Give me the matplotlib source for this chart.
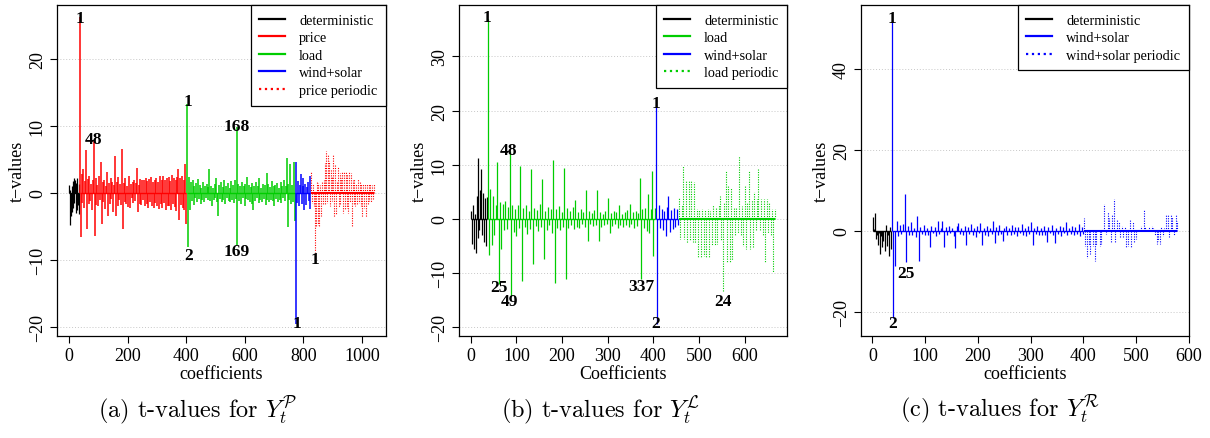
import numpy as np
import matplotlib
matplotlib.use("Agg")
import matplotlib.pyplot as plt
from matplotlib.lines import Line2D

plt.rcParams['font.family'] = ['Liberation Serif', 'DejaVu Serif']
plt.rcParams['mathtext.fontset'] = 'cm'
plt.rcParams['axes.unicode_minus'] = True

RED = '#FF0000'
GREEN = '#00CD00'
BLUE = '#0000FF'
BLACK = '#000000'

# ---------------- panel (a): t-values for price ----------------
a_det_start, a_det_step = 1, 2
a_det = [1.2, -4.8, 0.5, -3.5, 1.0, -2.8, 1.8, -2.2, 2.3, -1.5, 2.0, -3.0, 1.5, -2.5, 2.2, -1.8, 1.4, -3.2]

a_price_start = 37
a_price = [26.2, -6.6, 2.8, -1.5, 3.6, -2.2, 1.8, 6.4, -5.4, 2.1,
           -1.6, 2.5, -1.2, 1.4, -2.6, 1.9, 7.8, -6.4, 2.2, -1.8,
           1.2, -1.9, 2.6, -1.0, 4.6, -4.6, 1.6, -1.3, 2.0, -2.4,
           1.1, 3.2, -3.5, 1.5, -1.7, 2.3, -0.9, 1.6, -2.8, 1.2,
           5.5, -3.5, 1.7, -2.0, 2.4, -1.1, 1.3, -1.8, 6.6, -5.4,
           1.5, -1.4, 2.2, -1.6, 1.0, -2.1, 2.6, -2.2, 1.4, -0.8,
           1.7, -1.5, 2.0, -1.2, 1.5, 3.7, -2.9, 1.2, -1.6, 2.1,
           -1.8, 2.0, -1.0, 1.9, -2.0, 2.3, -1.6, 1.8, -2.2, 2.1,
           -1.4, 2.4, -1.9, 1.7, -2.3, 2.0, -1.5, 2.2, -2.0, 1.6,
           -2.4, 2.5, -1.7, 1.9, -2.2, 2.6, -1.5, 2.0, -2.6, 2.2,
           -1.9, 2.4, -2.0, 1.8, -2.5, 2.7, -1.6, 2.3, -2.1, 1.9,
           -2.7, 2.4, 3.5, -4.0, 2.2, -1.8, 2.6, -2.3, 2.0, -2.5,
           4.3, -4.6]

a_load_start = 404
a_load = [13.2, -8.0, 2.4, -2.5, 1.6, -1.2, 2.0, -1.8, 1.0, -0.8,
          1.5, -1.3, 2.1, -0.9, 1.2, -1.6, 0.8, -1.0, 1.7, -1.4,
          1.0, -0.7, 1.3, -1.1, 0.9, 3.6, -1.2, 1.1, -1.9, 0.8,
          -1.0, 1.4, -0.8, 2.3, -1.3, -3.5, 1.2, -0.9, 1.6, -1.4,
          0.9, -1.1, 2.0, -1.6, 1.1, -0.8, 1.5, -1.2, 0.7, -1.3,
          1.8, -1.0, 1.2, -1.5, 2.0, -0.9, 9.8, -7.8, 1.4, -1.2,
          1.0, -1.6, 1.7, -0.8, 1.1, -1.9, 1.3, -0.9, 2.4, -1.1,
          1.2, -1.4, 0.9, -1.7, 1.5, -2.6, 1.0, -1.2, 1.6, -0.8,
          1.1, -1.5, 2.2, -1.0, 0.8, -1.3, 1.4, -0.9, 1.2, -1.8,
          3.0, -1.1, 1.3, -1.4, 0.9, -1.0, 1.8, -1.2, 1.0, -2.0,
          1.2, -0.9, 1.5, -1.3, 0.8, -1.1, 1.6, -1.5, 1.1, -0.8,
          1.9, -1.2, 1.0, 5.2, -5.1, 1.3, -1.0, 4.3, -1.6, 1.2,
          -1.4, 4.6, -4.1]

a_wind_start = 773
a_wind = [-19.5, 4.6, -1.5, 1.8, -2.0, 1.2, 2.8, -1.6, 1.0, 2.2,
          -2.5, 1.4, -1.8, 0.9, 1.6, -1.2, 2.6, -2.4]

a_per_start = 827
a_price_per = [3.1, -1.5, 1.4, -2.0, -8.8, -5.1, 1.6, -4.8, 1.5, -5.0,
               1.2, -3.5, 1.6, -1.8, 2.0, -1.6, 4.4, 6.2, -1.5, 5.6,
               4.8, -1.9, 3.6, -1.2, 2.4, 5.8, -3.6, 4.1, -3.2, 1.8,
               3.8, -2.1, 3.0, -1.8, 2.2, 3.3, -3.0, 3.1, -2.6, 3.2,
               -2.2, 2.8, -3.0, 3.1, -1.4, 3.0, -5.1, 2.0, -1.6, 2.1,
               -1.9, 1.4, -1.8, 2.1, -1.5, 1.6, -1.9, 1.3, -3.6, 1.4,
               -2.2, 1.3, -3.6, 1.4, -1.6, 1.3, -1.2, 1.4, -1.4, 1.2,
               -1.1, 1.3]

a_lab_x = [37, 84, 407, 407, 574, 574, 777, 840]
a_lab_y = [26.1, 8.0, 13.7, -9.2, 10.0, -8.6, -19.3, -9.8]
a_lab_txt = ['1', '48', '1', '2', '168', '169', '1', '1']

# ---------------- panel (b): t-values for load ----------------
b_det_start, b_det_step = 1, 2
b_det = [1.4, -4.6, 2.5, -5.5, 1.0, -6.3, 4.2, -3.5, 11.2, -2.0,
         5.3, 9.2, -3.0, 4.8, -4.2, 3.9, -5.0, 4.0]

b_load_start = 37
b_load = [37.0, -6.6, 5.5, -4.8, 4.2, -3.0, 2.5, 10.6, -12.0, 3.2,
          -5.5, 2.8, -2.0, 3.4, -1.8, 2.2, 12.6, -14.2, 2.6, -2.4,
          1.8, -3.1, 2.5, -1.6, 9.8, -11.4, 2.0, -1.5, 2.6, -2.8,
          1.4, -1.9, 9.2, -8.3, 2.1, -1.3, 1.6, -2.2, 2.8, -1.4,
          7.4, -7.4, 1.5, -2.0, 2.3, -1.2, 1.9, -2.5, 10.8, -11.9,
          1.8, -1.6, 2.4, -2.0, 1.3, -1.5, 9.4, -11.1, 2.0, -1.7,
          1.5, -1.2, 2.2, -1.9, 3.5, -1.4, 1.2, -1.6, 1.8, -1.0,
          1.3, -1.5, 5.4, -4.1, 1.4, -0.9, 1.1, -1.3, 1.6, -1.2,
          5.4, -4.0, 1.2, -1.4, 0.9, -1.1, 1.5, -1.0, 3.8, -2.5,
          1.1, -1.3, 1.4, -0.9, 1.2, -1.6, 2.6, -1.2, 1.0, -1.4,
          1.3, -1.1, 1.6, -1.5, 2.8, -1.0, 1.2, -1.7, 1.5, -1.3,
          1.1, 7.6, -11.1, 1.8, -1.6, 2.0, -2.2, 4.7, -2.6, 1.9,
          8.9, -6.8, 2.0]

b_wind_start = 406
b_wind = [20.6, -19.4, 2.5, -1.6, 1.8, -2.0, 1.4, -3.1, 2.2, 4.3,
          -2.4, 1.6, -1.8, 2.0, -1.5, 1.8, -1.2]

b_per_start = 456
b_load_per = [4.0, -3.7, 2.5, 9.8, -3.7, 7.2, -4.5, 7.0, -3.9, 7.2,
              -4.2, 6.8, -4.5, 1.8, -7.1, 1.6, -7.1, 1.8, -6.8, 1.7,
              -7.0, 1.8, -7.1, 1.5, -4.8, 2.5, -4.8, 2.3, -4.6, 2.5,
              4.3, -4.0, -13.5, 3.0, 8.9, -8.0, 6.1, -8.0, 5.8, -7.5,
              2.0, -3.0, 2.2, -2.5, 11.7, -3.2, 2.4, -5.0, 6.1, -5.5,
              3.0, 8.9, -5.5, 3.5, -5.2, 5.0, -2.0, 3.6, 9.5, -2.2,
              3.7, -3.0, 3.7, -8.0, 3.7, -2.5, 3.1, -3.0, 1.8, -9.8,
              1.8]

b_lab_x = [36, 84, 62, 86, 373, 406, 406, 552]
b_lab_y = [37.2, 12.7, -12.6, -15.1, -12.3, 21.4, -19.2, -15.1]
b_lab_txt = ['1', '48', '25', '49', '337', '1', '2', '24']

# ---------------- panel (c): t-values for wind+solar ----------------
c_det_start, c_det_step = 1, 2
c_det = [3.5, 0.5, 4.5, -2.0, -1.0, -3.5, -0.5, -5.7, -1.2, -4.0,
         -2.5, -5.0, 1.5, -3.8, -1.0, -6.2, 1.0, -4.5]

c_wind_start = 37
c_wind = [52.0, -21.5, -8.7, 2.5, -1.2, 1.4, -0.8, 1.8, 9.1, -7.8,
          1.2, -0.9, 2.2, -1.0, 0.8, -1.4, 3.6, -7.4, 1.0, -0.7,
          1.5, -1.1, 0.6, -0.9, -4.1, 1.3, -0.6, 1.0, -1.2, 2.4,
          -0.8, 0.7, 2.5, -4.1, 0.9, -1.0, 1.2, -0.6, 0.8, -1.3,
          -4.3, 1.1, 2.0, -0.8, 0.6, -1.1, 1.3, -3.4, 0.9, -0.7,
          1.6, -1.0, 0.8, -1.4, 1.2, -0.6, 1.9, -3.4, 0.7, -0.9,
          1.1, -1.2, 0.8, -0.7, 2.5, -3.0, 0.9, -1.1, 1.4, -0.8,
          -2.6, 0.7, 1.2, -0.9, 0.6, -1.0, 1.5, -0.7, 0.9, -1.3,
          1.0, -0.6, 1.8, -0.9, 0.7, -1.2, 1.1, -0.8, 2.3, -3.4,
          0.8, -0.7, 1.3, -1.0, 0.6, -0.9, 1.2, -1.1, -2.8, 0.9,
          -0.6, 1.4, -1.0, -3.0, 0.8, -0.7, 1.1, -1.2, 0.9, -0.6,
          2.2, -1.0, 0.7, -0.8, 1.3, -1.1, 0.9, -0.7, 1.8, -1.3,
          1.0, -0.8]

c_per_start = 401
c_wind_per = [3.3, -3.7, -6.8, -3.5, -5.6, 0.5, -3.7, -7.4, -3.6, 0.5,
              -3.7, -3.2, 0.5, 6.6, -0.8, 4.6, 3.3, -2.9, 4.0, 7.9,
              -2.9, 3.0, 2.3, -1.7, 1.2, -1.5, 1.0, -4.1, -3.8, 3.0,
              -4.1, 2.3, -3.0, -2.0, 0.5, 0.3, 1.2, 0.4, 5.5, 1.0,
              0.3, 1.0, 0.5, 1.2, 0.6, -1.0, -3.3, -2.5, -3.3, 1.0,
              -1.2, 0.8, 4.1, 4.1, -1.5, 4.1, 3.5, -1.0, 4.1, 2.5]

c_lab_x = [38, 63, 39]
c_lab_y = [52.6, -10.3, -22.9]
c_lab_txt = ['1', '25', '2']

STEP = 3


def seg(ax, start, vals, color, step=STEP, lw=0.9):
    # every coefficient as a thin stick from zero, plus the zero line
    x = start + step * np.arange(len(vals))
    ax.vlines(x, 0, vals, colors=color, lw=lw)
    ax.hlines(0, x[0], x[-1], colors=color, lw=1.0)


def periodic(ax, start, vals, color):
    x = start + STEP * np.arange(len(vals))
    ax.vlines(x, 0, vals, colors=color, linestyles=(0, (1, 1.2)), lw=0.8)
    ax.hlines(0, x[0], x[-1], colors=color, lw=1.5)


def style(ax, xlim, ylim, yticks, xlabel):
    ax.set_xlim(xlim)
    ax.set_ylim(ylim)
    ax.set_yticks(yticks)
    for y in yticks:
        ax.axhline(y, color='#C8C8C8', lw=0.7, ls=(0, (1, 2)), zorder=0)
    ax.tick_params(direction='out', length=5, width=0.8, labelsize=13, pad=3)
    ax.tick_params(axis='y', labelrotation=90)
    for t in ax.get_yticklabels():
        t.set_va('center')
    for s in ax.spines.values():
        s.set_linewidth(0.9)
    ax.set_xlabel(xlabel, fontsize=13, labelpad=1)
    ax.set_ylabel('t\u2212values', fontsize=13, labelpad=2)


def labels(ax, xs, ys, txts):
    for x, y, t in zip(xs, ys, txts):
        ax.text(x, y, t, ha='center', va='center', fontsize=12.5,
                fontweight='bold', zorder=5)


def legend(ax, names, colors, styles):
    handles = [Line2D([], [], color=c, lw=1.6, ls=s) for c, s in zip(colors, styles)]
    leg = ax.legend(handles, names, loc='upper right', fontsize=10.3,
                    borderaxespad=0, fancybox=False, framealpha=1,
                    edgecolor='black', handlelength=1.8, handletextpad=1.0,
                    labelspacing=0.32, borderpad=0.6)
    leg.get_frame().set_linewidth(0.9)


fig = plt.figure(figsize=(12.1, 4.39), dpi=100)
H = 439.0
W = 1210.0
ax_a = fig.add_axes([57 / W, (H - 337) / H, 329 / W, 331 / H])
ax_b = fig.add_axes([459 / W, (H - 337) / H, 328 / W, 331 / H])
ax_c = fig.add_axes([861 / W, (H - 337) / H, 328 / W, 331 / H])

# (a)
seg(ax_a, a_det_start, a_det, BLACK, a_det_step)
seg(ax_a, a_price_start, a_price, RED, lw=1.1)
seg(ax_a, a_load_start, a_load, GREEN, lw=1.1)
seg(ax_a, a_wind_start, a_wind, BLUE, lw=1.1)
periodic(ax_a, a_per_start, a_price_per, RED)
labels(ax_a, a_lab_x, a_lab_y, a_lab_txt)
style(ax_a, (-40.6, 1081.6), (-21.3, 28.0), [-20, -10, 0, 10, 20], 'coefficients')
ax_a.set_xticks([0, 200, 400, 600, 800, 1000])
legend(ax_a, ['deterministic', 'price', 'load', 'wind+solar', 'price periodic'],
       [BLACK, RED, GREEN, BLUE, RED], ['-', '-', '-', '-', ':'])

# (b)
seg(ax_b, b_det_start, b_det, BLACK, b_det_step)
seg(ax_b, b_load_start, b_load, GREEN)
seg(ax_b, b_wind_start, b_wind, BLUE)
periodic(ax_b, b_per_start, b_load_per, GREEN)
labels(ax_b, b_lab_x, b_lab_y, b_lab_txt)
style(ax_b, (-25.6, 692.6), (-21.6, 39.5), [-20, -10, 0, 10, 20, 30], 'Coefficients')
ax_b.set_xticks([0, 100, 200, 300, 400, 500, 600])
legend(ax_b, ['deterministic', 'load', 'wind+solar', 'load periodic'],
       [BLACK, GREEN, BLUE, GREEN], ['-', '-', '-', ':'])

# (c)
seg(ax_c, c_det_start, c_det, BLACK, c_det_step)
seg(ax_c, c_wind_start, c_wind, BLUE)
periodic(ax_c, c_per_start, c_wind_per, BLUE)
labels(ax_c, c_lab_x, c_lab_y, c_lab_txt)
style(ax_c, (-21.6, 600.6), (-26.0, 55.9), [-20, 0, 20, 40], 'coefficients')
ax_c.set_xticks([0, 100, 200, 300, 400, 500, 600])
legend(ax_c, ['deterministic', 'wind+solar', 'wind+solar periodic'],
       [BLACK, BLUE, BLUE], ['-', '-', ':'])

# captions under each subfigure
caps = [r'(a) t-values for $Y_t^{\mathcal{P}}$',
        r'(b) t-values for $Y_t^{\mathcal{L}}$',
        r'(c) t-values for $Y_t^{\mathcal{R}}$']
cap_x = [197, 600, 1000]
for cx, cap in zip(cap_x, caps):
    fig.text(cx / W, (H - 410) / H, cap, ha='center', va='center',
             fontsize=17.5, family=['cmr10', 'DejaVu Serif'])

fig.savefig('out.png', dpi=100)
